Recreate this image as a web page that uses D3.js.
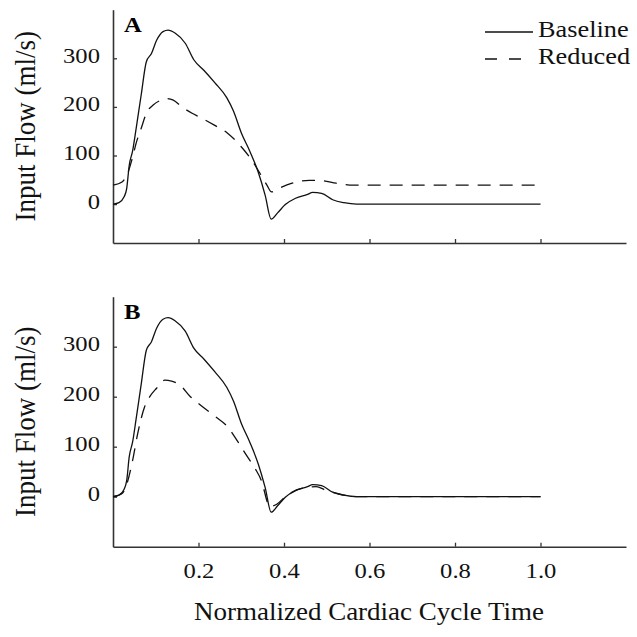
<!DOCTYPE html>
<html><head><meta charset="utf-8">
<script src="https://cdn.jsdelivr.net/npm/d3@7"></script>
<style>body{margin:0;background:#fff} text{font-family:"Liberation Serif","Times New Roman",Times,serif;}</style>
</head><body>
<svg id="chart" width="637" height="637"></svg>
<script>
// ---- data ----
const seriesNames = ["Baseline", "Reduced"];
const panelLabels = ["A", "B"];
const xTicks = [0.2, 0.4, 0.6, 0.8, 1.0];
const yTicks = [0, 100, 200, 300];

const baselineT = [0.0, 0.014, 0.026, 0.032, 0.038, 0.046, 0.054, 0.066, 0.078, 0.090, 0.102, 0.117, 0.129, 0.145, 0.169, 0.189, 0.213, 0.238, 0.266, 0.282, 0.300, 0.320, 0.340, 0.356, 0.370, 0.385, 0.403, 0.427, 0.455, 0.467, 0.488, 0.514, 0.540, 0.570, 0.7, 0.85, 1.0];
const baselineV = [0, 3, 15, 32, 80, 110, 155, 225, 293, 310, 337, 355, 358, 352, 331, 297, 275, 250, 219, 191, 147, 109, 65, 18, -31, -18, -1, 12, 20, 24, 22, 9, 3, 0, 0, 0, 0];

const reducedAT = [0.0, 0.022, 0.034, 0.046, 0.054, 0.066, 0.078, 0.094, 0.110, 0.125, 0.141, 0.161, 0.185, 0.205, 0.236, 0.268, 0.300, 0.324, 0.344, 0.360, 0.371, 0.387, 0.419, 0.459, 0.490, 0.522, 0.562, 0.7, 0.85, 1.0];
const reducedAV = [39, 46, 63, 97, 125, 156, 187, 204, 213, 217, 214, 200, 187, 178, 163, 146, 118, 91, 63, 39, 25, 32, 43, 49, 48, 43, 39, 39, 39, 39];

const reducedBT = [0.0, 0.022, 0.034, 0.046, 0.058, 0.074, 0.086, 0.102, 0.121, 0.137, 0.157, 0.181, 0.205, 0.240, 0.268, 0.292, 0.312, 0.332, 0.348, 0.363, 0.367, 0.383, 0.407, 0.443, 0.475, 0.498, 0.522, 0.554, 0.570, 0.7, 0.85, 1.0];
const reducedBV = [0, 7, 30, 73, 127, 180, 200, 217, 233, 231, 223, 200, 183, 160, 140, 110, 83, 57, 30, -15, -20, -15, 3, 17, 20, 13, 7, 1, 0, 0, 0, 0];

const panelYDomains = [[-80, 400], [-100, 400]];

// ---- layout ----
const svg = d3.select("#chart");
const stretch = 1.12;
const x = d3.scaleLinear().domain([0, 1.2]).range([113, 626]);
const panels = [
  {top: 9.7, bottom: 243, label: panelLabels[0], reduced: [reducedAT, reducedAV], xLabels: false},
  {top: 296.7, bottom: 546.7, label: panelLabels[1], reduced: [reducedBT, reducedBV], xLabels: true}
];

const line = d3.line().x(d => x(d[0])).y(d => d.y).curve(d3.curveMonotoneX);

panels.forEach((p, i) => {
  const y = d3.scaleLinear().domain(panelYDomains[i]).range([p.bottom, p.top]);
  const g = svg.append("g");

  const ya = g.append("g").attr("transform", `translate(${x(0)},0)`)
    .call(d3.axisLeft(y).tickValues(yTicks).tickSize(-4).tickSizeOuter(0).tickPadding(14));
  const xa = g.append("g").attr("transform", `translate(0,${p.bottom})`)
    .call(d3.axisBottom(x).tickValues(xTicks).tickSize(-4).tickSizeOuter(0).tickPadding(14)
      .tickFormat(p.xLabels ? d3.format(".1f") : () => ""));
  [ya, xa].forEach(a => {
    a.attr("font-family", null);
    a.select(".domain").attr("stroke", "#333").attr("stroke-width", 1.6);
    a.selectAll(".tick line").attr("stroke", "#333").attr("stroke-width", 1.3);
  });
  ya.selectAll(".tick text")
    .attr("x", null).attr("dy", null)
    .attr("transform", "translate(-13,4) scale(" + stretch + ",1)")
    .attr("font-size", 22).attr("fill", "#111");
  xa.selectAll(".tick text")
    .attr("y", null).attr("dy", null)
    .attr("transform", "translate(0,31) scale(" + stretch + ",1)")
    .attr("font-size", 22).attr("fill", "#111");

  g.append("text")
    .attr("transform", `translate(35,${(p.top + p.bottom) / 2}) rotate(-90) scale(1.0,${stretch})`)
    .attr("text-anchor", "middle")
    .attr("font-size", 27).attr("fill", "#111")
    .text("Input Flow (ml/s)");

  g.append("text")
    .attr("transform", `translate(124,${p.top + 22}) scale(${stretch},1)`)
    .attr("font-size", 22).attr("font-weight", "bold")
    .text(p.label);

  const base = baselineT.map((t, k) => { const d = [t, baselineV[k]]; d.y = y(baselineV[k]); return d; });
  const red = p.reduced[0].map((t, k) => { const d = [t, p.reduced[1][k]]; d.y = y(p.reduced[1][k]); return d; });
  g.append("path").attr("d", line(red)).attr("fill", "none").attr("stroke", "#111")
    .attr("stroke-width", 1.3).attr("stroke-dasharray", "13,9");
  g.append("path").attr("d", line(base)).attr("fill", "none").attr("stroke", "#111")
    .attr("stroke-width", 1.3);
});

svg.append("text")
  .attr("transform", `translate(369,620) scale(1.08,1)`)
  .attr("text-anchor", "middle")
  .attr("font-size", 25).attr("fill", "#111")
  .text("Normalized Cardiac Cycle Time");

const legend = svg.append("g");
seriesNames.forEach((name, i) => {
  const ly = 32 + i * 27;
  legend.append("line").attr("x1", 485).attr("x2", 533).attr("y1", ly).attr("y2", ly)
    .attr("stroke", "#111").attr("stroke-width", 1.3)
    .attr("stroke-dasharray", i === 1 ? "12,12" : null);
  legend.append("text")
    .attr("transform", `translate(538,${ly + 5}) scale(${stretch},1)`)
    .attr("font-size", 23.5).attr("fill", "#111")
    .text(name);
});
</script>
</body></html>
